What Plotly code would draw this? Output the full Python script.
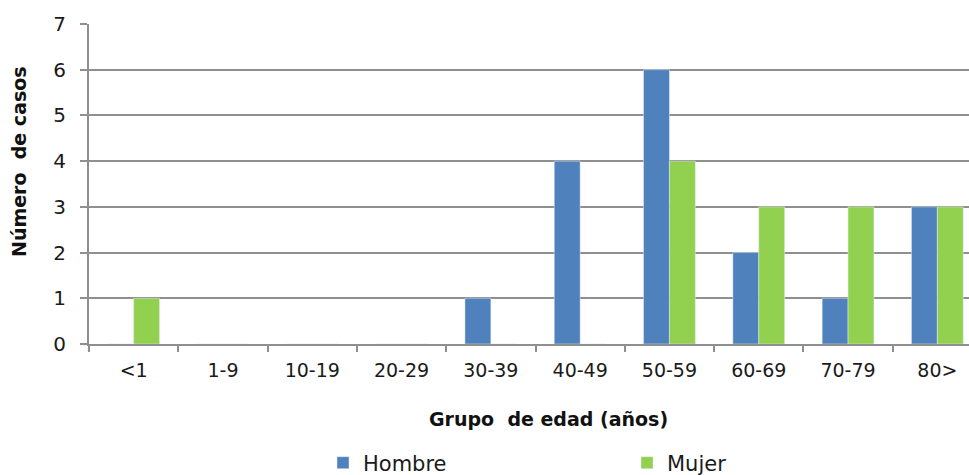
import plotly.graph_objects as go

categories = ["<1", "1-9", "10-19", "20-29", "30-39", "40-49", "50-59", "60-69", "70-79", "80>"]
hombre = [0, 0, 0, 0, 1, 4, 6, 2, 1, 3]
mujer = [1, 0, 0, 0, 0, 0, 4, 3, 3, 3]
y_ticks = [0, 1, 2, 3, 4, 5, 6, 7]

FONT = "DejaVu Sans"
GRID = "#8f8f8f"
TXT = "#1a1a1a"

fig = go.Figure()
fig.add_trace(go.Bar(x=categories, y=hombre, name="Hombre", marker_color="#4F81BD", legend="legend"))
fig.add_trace(go.Bar(x=categories, y=mujer, name="Mujer", marker_color="#92D050", legend="legend2"))

leg_common = dict(orientation="h", xanchor="left", yanchor="middle",
                  font=dict(size=21, family=FONT, color=TXT), bgcolor="rgba(0,0,0,0)",
                  itemwidth=30)

fig.update_layout(
    width=969, height=475,
    margin=dict(l=89, r=0, t=24, b=131, autoexpand=False),
    paper_bgcolor="white", plot_bgcolor="white",
    barmode="group", bargap=0.42, bargroupgap=0,
    font=dict(family=FONT, color=TXT),
    showlegend=True,
    legend=dict(x=(323 - 89) / 880, y=(344 - 463) / 320, **leg_common),
    legend2=dict(x=(627 - 89) / 880, y=(344 - 463) / 320, **leg_common),
    xaxis=dict(type="category", range=[-0.5, -0.5 + 880 / 89.3],
               showgrid=False, showline=True, linecolor=GRID, linewidth=2,
               ticks="outside", tickson="boundaries", ticklen=6, tickcolor=GRID, tickwidth=2,
               ticklabelstandoff=8,
               tickfont=dict(size=19, family=FONT, color=TXT)),
    yaxis=dict(range=[0, 7], tickvals=y_ticks, showgrid=True, gridcolor=GRID, gridwidth=2,
               showline=True, linecolor=GRID, linewidth=2, zeroline=False,
               ticks="outside", ticklen=7, tickcolor=GRID, tickwidth=2,
               ticklabelstandoff=10,
               tickfont=dict(size=20, family=FONT, color=TXT)),
    annotations=[
        dict(text="<b>Grupo \u00a0de edad (años)</b>", xref="paper", yref="paper",
             x=(548 - 89) / 880, y=(344 - 419) / 320, xanchor="center", yanchor="middle",
             showarrow=False, font=dict(size=19, family=FONT, color="#111111")),
        dict(text="<b>Número \u00a0de casos</b>", xref="paper", yref="paper",
             x=(19 - 89) / 880, y=(344 - 162) / 320, xanchor="center", yanchor="middle",
             textangle=-90, showarrow=False, font=dict(size=19, family=FONT, color="#111111")),
    ],
)

fig.write_html("out.html")
